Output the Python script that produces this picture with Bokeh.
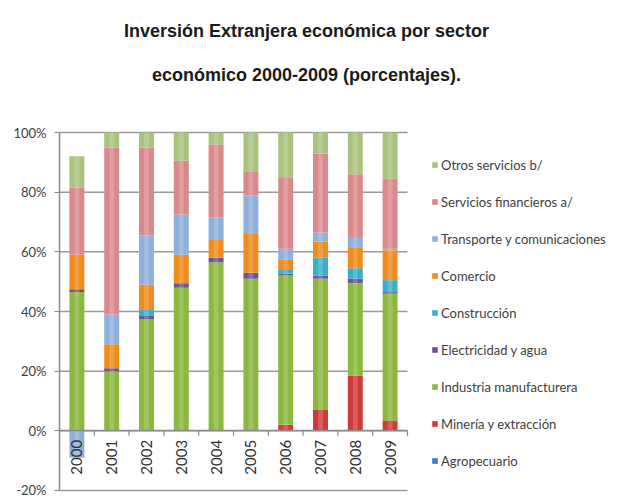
import math
import numpy as np
from bokeh.plotting import figure
from bokeh.models import (Range1d, FixedTicker, PrintfTickFormatter, LinearAxis,
                          Legend, LegendItem, Label, ColumnDataSource)
from bokeh.embed import file_html
from bokeh.resources import INLINE

# ---------------- data (percent) ----------------
years = ["2000", "2001", "2002", "2003", "2004", "2005", "2006", "2007", "2008", "2009"]

series_names = ["Agropecuario", "Minería y extracción", "Industria manufacturera",
                "Electricidad y agua", "Construcción", "Comercio",
                "Transporte y comunicaciones", "Servicios financieros a/", "Otros servicios b/"]

agropecuario  = [0, 0, 0, 0, 0, 0, 0, 0, 0, 0]
mineria       = [0, 0, 0, 0, 0, 0, 2, 7, 18.5, 3.5]
industria     = [46.5, 20, 37.5, 48, 56.5, 51, 50.2, 44, 31, 42.5]
electricidad  = [1, 1, 1, 1.5, 1.5, 2, 0.5, 1, 1.5, 0.5]
construccion  = [0, 0, 2, 0, 0, 0, 1.5, 6, 3.5, 4]
comercio      = [11.5, 8, 8.5, 9.5, 6, 13, 3.3, 5.5, 7, 10]
transporte    = [-9, 10, 16.5, 13.5, 7.5, 13, 3.5, 3, 3.5, 0.5]
servicios_fin = [22.5, 56, 29.5, 18, 24.5, 8, 24, 26.5, 21, 23.5]
otros_serv    = [10.5, 5, 5, 9.5, 4, 13, 15, 7, 14, 15.5]

y_ticks = [-20, 0, 20, 40, 60, 80, 100]
title_lines = ["Inversión Extranjera económica por sector",
               "económico 2000-2009 (porcentajes)."]

colors = ["#3B7BC4", "#D03A3A", "#8CB83F", "#6B5596", "#3AAFC8", "#F08C1E",
          "#8EB0DA", "#D9898B", "#A9C37E"]

# ---------------- layout (pixels) ----------------
W, H = 622, 497
plot_left, plot_right, plot_top, plot_bottom = 59, 407, 132, 490
n = len(years)
y_min, y_max = y_ticks[0], y_ticks[-1]
px_x = (plot_right - plot_left) / n
px_y = (plot_bottom - plot_top) / (y_max - y_min)

x_lo = -0.5 - plot_left / px_x
x_hi = n - 0.5 + (W - plot_right) / px_x
y_hi = y_max + plot_top / px_y
y_lo = y_min - (H - plot_bottom) / px_y

p = figure(width=W, height=H, x_range=Range1d(x_lo, x_hi), y_range=Range1d(y_lo, y_hi),
           output_backend="svg", toolbar_location=None,
           min_border_left=0, min_border_right=0, min_border_top=0, min_border_bottom=0,
           x_axis_type=None, y_axis_type=None)
p.outline_line_color = None
p.background_fill_color = "white"
p.border_fill_color = "white"
p.xgrid.visible = False
p.ygrid.visible = False

idx = list(range(n))
x_first, x_last = idx[0] - 0.5, idx[-1] + 0.5

# horizontal grid lines
p.segment(x0=x_first, x1=x_last, y0=y_ticks, y1=y_ticks,
          line_color="#9a9a9a", line_width=1.5)

# stacked bars (positives up, negatives down)
vals = np.array([agropecuario, mineria, industria, electricidad, construccion,
                 comercio, transporte, servicios_fin, otros_serv], dtype=float)
pos = np.where(vals > 0, vals, 0.0)
neg = np.where(vals < 0, vals, 0.0)
pos_top = np.cumsum(pos, axis=0)
pos_bot = pos_top - pos
neg_low = np.cumsum(neg, axis=0)
neg_high = neg_low - neg

renderers = []
for i, name in enumerate(series_names):
    top = np.where(vals[i] >= 0, pos_top[i], neg_high[i])
    bottom = np.where(vals[i] >= 0, pos_bot[i], neg_low[i])
    src = ColumnDataSource(dict(x=idx, top=top, bottom=bottom))
    r = p.vbar(x="x", top="top", bottom="bottom", width=0.43, source=src,
               fill_color=colors[i], line_color=None)
    p.vbar(x="x", top="top", bottom="bottom", width=0.14, source=src,
           fill_color="white", fill_alpha=0.18, line_color=None)
    renderers.append(r)

# y axis (inside the full-canvas frame)
yax = LinearAxis(fixed_location=x_first, ticker=FixedTicker(ticks=y_ticks),
                 formatter=PrintfTickFormatter(format="%d%%"), bounds=(y_min, y_max))
yax.axis_line_color = "#8a8a8a"
yax.axis_line_width = 1.5
yax.major_tick_line_color = "#8a8a8a"
yax.major_tick_out = 5
yax.major_tick_in = 0
yax.minor_tick_line_color = None
yax.major_label_standoff = 8
yax.major_label_text_font = "Lato"
yax.major_label_text_font_size = "13px"
yax.major_label_text_color = "#404040"
p.add_layout(yax, "left")

# x axis on the 0 line, labels are the years
xax = LinearAxis(fixed_location=0, ticker=FixedTicker(ticks=idx), bounds=(x_first, x_last),
                 major_label_overrides={i: y for i, y in zip(idx, years)})
xax.axis_line_color = "#8a8a8a"
xax.axis_line_width = 1.5
xax.major_tick_line_color = None
xax.major_tick_out = 0
xax.minor_tick_line_color = None
xax.major_label_orientation = math.pi / 2
xax.major_label_standoff = 9
xax.major_label_text_font = "Lato"
xax.major_label_text_font_size = "15px"
xax.major_label_text_color = "#303030"
p.add_layout(xax, "below")

# category boundary tick marks on the 0 line
bounds_x = [i + 0.5 for i in idx]
p.segment(x0=bounds_x, x1=bounds_x, y0=0, y1=-5 / px_y,
          line_color="#8a8a8a", line_width=1.2)

# legend (reverse order, like the original)
items = [LegendItem(label=series_names[i], renderers=[renderers[i]])
         for i in reversed(range(len(series_names)))]
legend = Legend(items=items, location=(431, 28), orientation="vertical",
                glyph_width=7, glyph_height=7, label_standoff=3,
                label_height=17, spacing=20, padding=0, margin=0,
                border_line_color=None, background_fill_alpha=0,
                label_text_font="Lato", label_text_font_size="13px",
                label_text_color="#404040")
p.add_layout(legend)

# two-line title
for txt, yy in zip(title_lines, [H - 30, H - 74]):
    p.add_layout(Label(x=306, y=yy, x_units="screen", y_units="screen", text=txt,
                       text_align="center", text_baseline="middle",
                       text_font="Liberation Sans", text_font_style="bold",
                       text_font_size="18px", text_color="#1a1a1a"))

open("out.html", "w").write(file_html(p, INLINE))
